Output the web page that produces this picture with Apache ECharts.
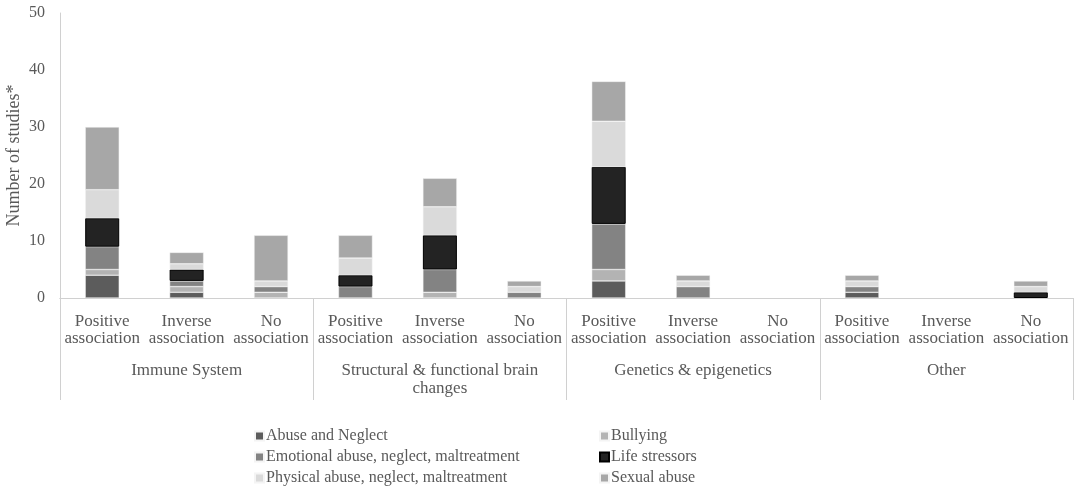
<!DOCTYPE html>
<html>
<head>
<meta charset="utf-8">
<script src="https://cdn.jsdelivr.net/npm/echarts@6/dist/echarts.min.js"></script>
<style>
  html, body { margin: 0; padding: 0; background: #fff; }
  #chart { width: 1084px; height: 490px; }
</style>
</head>
<body>
<div id="chart"></div>
<script>
// categories
const subCategories = [
    "Positive\nassociation", "Inverse\nassociation", "No\nassociation",
    "Positive\nassociation", "Inverse\nassociation", "No\nassociation",
    "Positive\nassociation", "Inverse\nassociation", "No\nassociation",
    "Positive\nassociation", "Inverse\nassociation", "No\nassociation"
];
const groups = ["Immune System", "Structural & functional brain\nchanges", "Genetics & epigenetics", "Other"];

// series values (bottom to top of each stack)
const abuseNeglect = [4, 1, 0, 0, 0, 0, 3, 0, 0, 1, 0, 0];
const bullying     = [1, 1, 1, 0, 1, 0, 2, 0, 0, 0, 0, 0];
const emotional    = [4, 1, 1, 2, 4, 1, 8, 2, 0, 1, 0, 0];
const lifeStress   = [5, 2, 0, 2, 6, 0, 10, 0, 0, 0, 0, 1];
const physical     = [5, 1, 1, 3, 5, 1, 8, 1, 0, 1, 0, 1];
const sexual       = [11, 2, 8, 4, 5, 1, 7, 1, 0, 1, 0, 1];

const yTicks = [0, 10, 20, 30, 40, 50];

const seriesDefs = [
    { name: "Abuse and Neglect", data: abuseNeglect, color: "#5c5c5c" },
    { name: "Bullying", data: bullying, color: "#b3b3b3" },
    { name: "Emotional abuse, neglect, maltreatment", data: emotional, color: "#838383" },
    { name: "Life stressors", data: lifeStress, color: "#232323", border: "#000" },
    { name: "Physical abuse, neglect, maltreatment", data: physical, color: "#dadada" },
    { name: "Sexual abuse", data: sexual, color: "#a7a7a7" }
];

const font = "'Liberation Serif', 'Times New Roman', serif";
const textColor = "#595959";

const chart = echarts.init(document.getElementById("chart"));

function legendCol(names, left) {
    return {
        data: names,
        orient: "vertical", left: left, top: 428,
        padding: 0,
        itemWidth: 9, itemHeight: 9, itemGap: 5,
        icon: "rect",
        textStyle: { fontFamily: font, fontSize: 16, color: textColor, padding: [0, 0, 0, -3] }
    };
}

chart.setOption({
    backgroundColor: "#fff",
    animation: false,
    textStyle: { fontFamily: font },
    grid: { left: 60, right: 11, top: 13, bottom: 192, containLabel: false, outerBoundsMode: "none" },
    legend: [
        legendCol([seriesDefs[0].name, seriesDefs[2].name, seriesDefs[4].name], 254),
        legendCol([seriesDefs[1].name, seriesDefs[3].name, seriesDefs[5].name], 599)
    ],
    xAxis: [
        {
            type: "category",
            data: subCategories,
            position: "bottom",
            axisLine: { lineStyle: { color: "#d0d0d0", width: 1 } },
            axisTick: { show: false },
            axisLabel: {
                interval: 0, margin: 15,
                fontFamily: font, fontSize: 17, color: textColor, lineHeight: 17
            }
        },
        {
            type: "category",
            data: groups,
            position: "bottom",
            axisLine: { show: true, lineStyle: { color: "#d0d0d0", width: 1 } },
            axisTick: { show: true, length: 102, lineStyle: { color: "#d0d0d0" } },
            axisLabel: {
                interval: 0, margin: 64,
                fontFamily: font, fontSize: 17, color: textColor, lineHeight: 18
            }
        }
    ],
    yAxis: {
        type: "value",
        min: yTicks[0],
        max: yTicks[yTicks.length - 1],
        interval: 10,
        name: "Number of studies*",
        nameLocation: "middle",
        nameGap: 37,
        nameMoveOverlap: false,
        nameTextStyle: { fontFamily: font, fontSize: 18, color: textColor },
        axisLine: { show: true, lineStyle: { color: "#d0d0d0" } },
        axisTick: { show: false },
        splitLine: { show: false },
        axisLabel: { fontFamily: font, fontSize: 16, color: textColor, margin: 15 }
    },
    series: seriesDefs.map(s => ({
        name: s.name,
        type: "bar",
        stack: "total",
        xAxisIndex: 0,
        barWidth: 34,
        // zero counts are left empty so no hairline is drawn
        data: s.data.map(v => (v === 0 ? "-" : v)),
        itemStyle: {
            color: s.color,
            borderColor: s.border || "#f4f4f4",
            borderWidth: s.border ? 1 : 0.5
        }
    }))
});

window.addEventListener("resize", () => chart.resize());
</script>
</body>
</html>
